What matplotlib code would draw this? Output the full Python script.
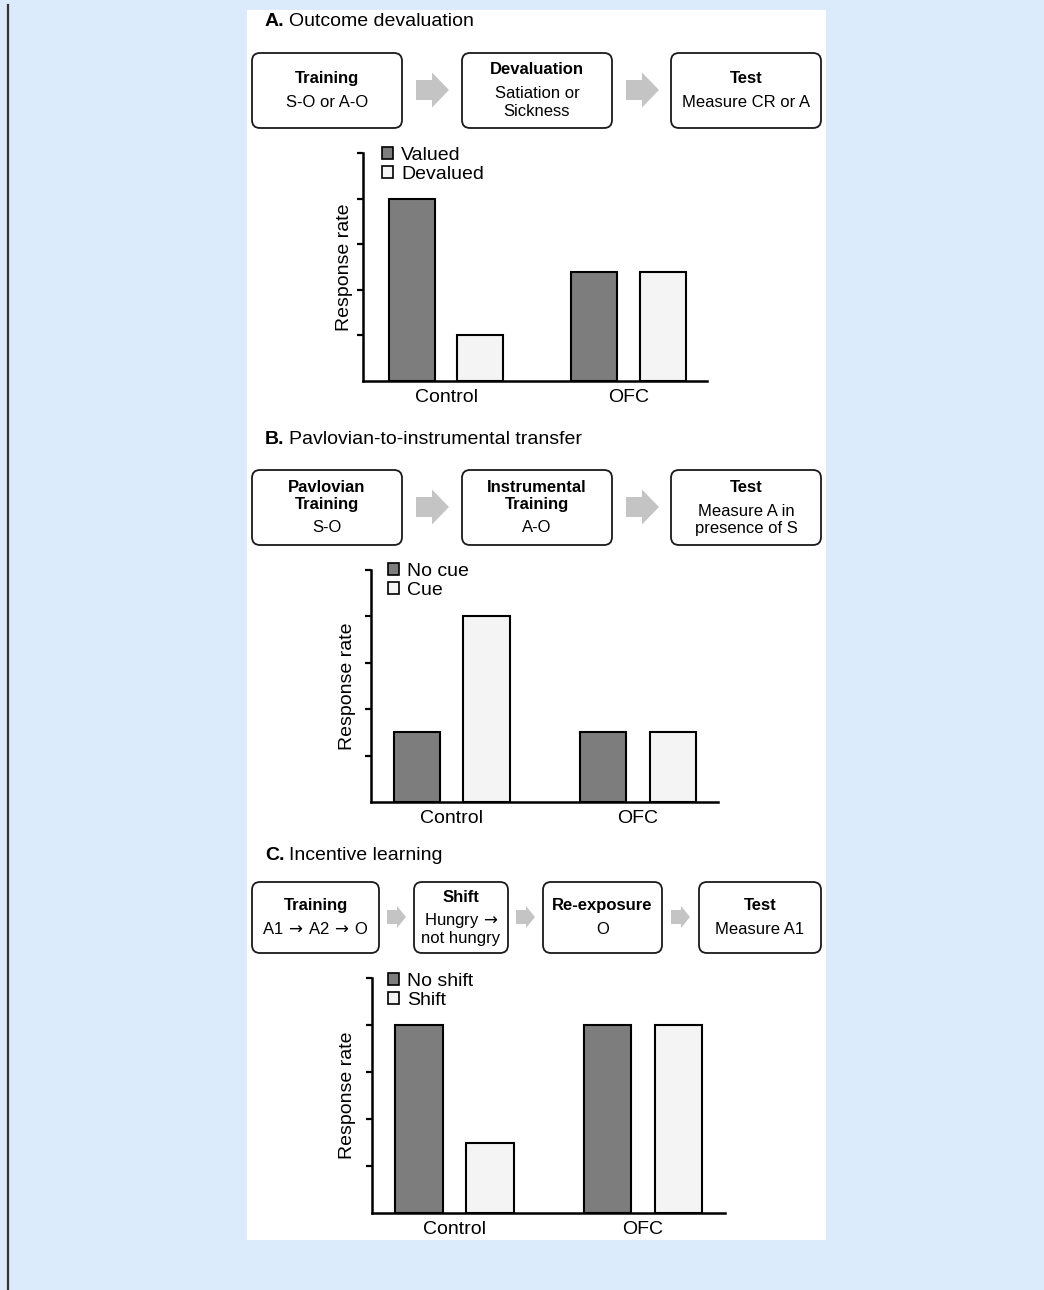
import matplotlib
matplotlib.use('Agg')
import matplotlib.pyplot as plt
from matplotlib.patches import FancyBboxPatch, Rectangle, Polygon, Patch

plt.rcParams['font.family'] = ['Liberation Sans', 'DejaVu Sans']
plt.rcParams['mathtext.fontset'] = 'dejavusans'

W, H = 1044, 1290

groups = ['Control', 'OFC']

# A. Outcome devaluation
devaluation_keys = ['Valued', 'Devalued']
valued = [4.0, 2.4]
devalued = [1.0, 2.4]

# B. Pavlovian-to-instrumental transfer
pit_keys = ['No cue', 'Cue']
no_cue = [1.5, 1.5]
cue = [4.0, 1.5]

# C. Incentive learning
incentive_keys = ['No shift', 'Shift']
no_shift = [4.0, 4.0]
shift = [1.5, 4.0]

# procedure boxes: (bold header lines, plain body lines)
steps_a = [(['Training'], ['S-O or A-O']),
           (['Devaluation'], ['Satiation or', 'Sickness']),
           (['Test'], ['Measure CR or A'])]
steps_b = [(['Pavlovian', 'Training'], ['S-O']),
           (['Instrumental', 'Training'], ['A-O']),
           (['Test'], ['Measure A in', 'presence of S'])]
steps_c = [(['Training'], [r'A1$\,\rightarrow\,$A2$\,\rightarrow\,$O']),
           (['Shift'], [r'Hungry$\,\rightarrow$', 'not hungry']),
           (['Re-exposure'], ['O']),
           (['Test'], ['Measure A1'])]

DARK = '#7d7d7d'
LIGHT = '#f4f4f4'
ARROW = '#c4c4c4'

fig = plt.figure(figsize=(W / 100, H / 100), dpi=100, facecolor='#dcebfb')

bg = fig.add_axes([0, 0, 1, 1], zorder=0)
bg.set_xlim(0, W)
bg.set_ylim(H, 0)
bg.axis('off')
bg.add_patch(Rectangle((247, 10), 579, 1230, fc='white', ec='none'))
bg.plot([8, 8], [5, H], color='#333333', lw=1.6)


def title(y, letter, text):
    bg.text(265, y, letter, fontsize=14, fontweight='bold', va='center', ha='left')
    bg.text(289, y, text, fontsize=14, va='center', ha='left')


def box(x0, x1, y0, y1, header, body):
    r = 8
    bg.add_patch(FancyBboxPatch((x0 + r, y0 + r), x1 - x0 - 2 * r, y1 - y0 - 2 * r,
                                boxstyle='round,pad=%d,rounding_size=%d' % (r, r),
                                fc='white', ec='#1a1a1a', lw=1.3))
    lines = [(s, 'bold') for s in header] + [(s, 'normal') for s in body]
    ys = []
    y = 0
    for i, (s, w) in enumerate(lines):
        if i > 0:
            y += 24 if (w == 'normal' and lines[i - 1][1] == 'bold') else 17
        ys.append(y)
    off = (y0 + y1) / 2 - ys[-1] / 2
    xc = (x0 + x1) / 2
    for (s, w), yy in zip(lines, ys):
        bg.text(xc, yy + off, s, fontsize=12, fontweight=w, ha='center', va='center')


def arrow(x0, x1, yc, shaft, head, head_len):
    pts = [(x0, yc - shaft), (x1 - head_len, yc - shaft), (x1 - head_len, yc - head),
           (x1, yc), (x1 - head_len, yc + head), (x1 - head_len, yc + shaft),
           (x0, yc + shaft)]
    bg.add_patch(Polygon(pts, closed=True, fc=ARROW, ec='none'))


def chart(left, right, top, bottom, keys, first, second, xlim, leg_xy, label_x):
    ax = fig.add_axes([left / W, 1 - bottom / H, (right - left) / W, (bottom - top) / H],
                      zorder=1)
    ax.patch.set_alpha(0)
    x = range(len(groups))
    off, wd = 0.188, 0.252
    ax.bar([i - off for i in x], first, wd, color=DARK, edgecolor='black', lw=1.5)
    ax.bar([i + off for i in x], second, wd, color=LIGHT, edgecolor='black', lw=1.5)
    ax.set_xlim(*xlim)
    ax.set_ylim(0, 5)
    ax.set_yticks([1, 2, 3, 4, 5])
    ax.set_yticklabels([])
    ax.tick_params(axis='y', direction='out', length=4.5, width=1.6)
    ax.set_xticks(list(x))
    ax.set_xticklabels(groups, fontsize=14)
    ax.tick_params(axis='x', length=0, pad=5.5)
    for s in ['top', 'right']:
        ax.spines[s].set_visible(False)
    for s in ['left', 'bottom']:
        ax.spines[s].set_linewidth(1.8)
    ax.set_ylabel('Response rate', fontsize=14)
    ax.yaxis.set_label_coords(label_x, 0.5)
    handles = [Patch(fc=DARK, ec='black', lw=1.2), Patch(fc=LIGHT, ec='black', lw=1.2)]
    ax.legend(handles, keys, loc='upper left', bbox_to_anchor=leg_xy, frameon=False,
              fontsize=14, handlelength=0.55, handleheight=0.55, handletextpad=0.45,
              labelspacing=0.08, borderpad=0, borderaxespad=0)
    return ax


# A
title(22, 'A.', 'Outcome devaluation')
for (x0, x1), (hd, bd) in zip([(252, 402), (462, 612), (671, 821)], steps_a):
    box(x0, x1, 53, 128, hd, bd)
arrow(416, 449, 90, 10, 17.5, 17)
arrow(626, 659, 90, 10, 17.5, 17)
chart(363, 707, 153, 381, devaluation_keys, valued, devalued, (-0.455, 1.43),
      (0.055, 1.026), -0.028)

# B
title(439, 'B.', 'Pavlovian-to-instrumental transfer')
for (x0, x1), (hd, bd) in zip([(252, 402), (462, 612), (671, 821)], steps_b):
    box(x0, x1, 470, 545, hd, bd)
arrow(416, 449, 507, 10, 17.5, 17)
arrow(626, 659, 507, 10, 17.5, 17)
chart(371, 718, 570, 802, pit_keys, no_cue, cue, (-0.435, 1.43),
      (0.049, 1.03), -0.043)

# C
title(855, 'C.', 'Incentive learning')
for (x0, x1), (hd, bd) in zip([(252, 379), (414, 508), (543, 662), (699, 821)], steps_c):
    box(x0, x1, 882, 953, hd, bd)
arrow(387, 406, 917, 7, 11, 9)
arrow(516, 535, 917, 7, 11, 9)
arrow(671, 690, 917, 7, 11, 9)
chart(372, 725, 978, 1213, incentive_keys, no_shift, shift, (-0.438, 1.435),
      (0.045, 1.021), -0.045)

fig.savefig('out.png', dpi=100, facecolor=fig.get_facecolor())
